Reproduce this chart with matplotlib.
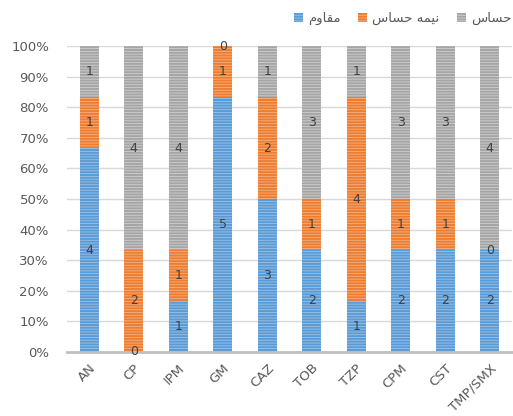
import numpy as np
import matplotlib
matplotlib.use("Agg")
import matplotlib.pyplot as plt
from matplotlib.patches import Patch

categories = ["AN", "CP", "IPM", "GM", "CAZ", "TOB", "TZP", "CPM", "CST", "TMP/SMX"]
resistant = [4, 0, 1, 5, 3, 2, 1, 2, 2, 2]      # مقاوم
intermediate = [1, 2, 1, 1, 2, 1, 4, 1, 1, 0]   # نیمه حساس
sensitive = [1, 4, 4, 0, 1, 3, 1, 3, 3, 4]      # حساس

# pre-shaped persian labels (visual order) since matplotlib has no bidi
lbl_res = "\ufee1\ufeed\ufe8e\ufed8\ufee3"
lbl_int = "\ufeb1\ufe8e\ufeb4\ufea3 \ufeea\ufee4\ufbff\ufee7"
lbl_sen = "\ufeb1\ufe8e\ufeb4\ufea3"

plt.rcParams["font.family"] = ["DejaVu Sans"]
plt.rcParams["hatch.linewidth"] = 0.6

colors = ["#5B9BD5", "#ED7D31", "#A5A5A5"]
stripes = ["#9DC3E6", "#F4B183", "#D0D0D0"]

data = np.array([resistant, intermediate, sensitive], dtype=float)
pct = data / data.sum(axis=0) * 100

fig = plt.figure(figsize=(5.13, 4.16), dpi=100)
ax = fig.add_axes([0.1306, 0.154, 0.8674, 0.735])

x = np.arange(len(categories))
bottom = np.zeros(len(categories))
for i in range(3):
    ax.bar(x, pct[i], 0.42, bottom=bottom, color=colors[i], edgecolor=stripes[i],
           linewidth=0, hatch="------", zorder=2)
    for j in range(len(categories)):
        ax.text(x[j], bottom[j] + pct[i][j] / 2, str(int(data[i][j])), ha="center", va="center",
                fontsize=9, color="#404040", zorder=3)
    bottom += pct[i]

ax.set_xlim(-0.5, len(categories) - 0.5)
ax.set_ylim(0, 100)
ax.set_yticks(np.arange(0, 101, 10))
ax.set_yticklabels([f"{v}%" for v in range(0, 101, 10)])
ax.set_xticks(x)
ax.set_xticklabels(categories, rotation=45, ha="right", rotation_mode="anchor")
ax.tick_params(axis="both", length=0, labelsize=9.5, colors="#595959")
ax.tick_params(axis="y", pad=13)
ax.tick_params(axis="x", pad=7)
ax.yaxis.grid(True, color="#D9D9D9", linewidth=1, zorder=0)
for s in ["top", "right", "left"]:
    ax.spines[s].set_visible(False)
ax.spines["bottom"].set_color("#BFBFBF")
ax.spines["bottom"].set_linewidth(2)

handles = [Patch(facecolor=colors[i], edgecolor=stripes[i], hatch="------", linewidth=0) for i in range(3)]
fig.legend(handles, [lbl_res, lbl_int, lbl_sen], loc="upper center", bbox_to_anchor=(0.785, 1.0),
           ncol=3, frameon=False, fontsize=9.5, handlelength=0.7, handleheight=0.7,
           handletextpad=0.4, columnspacing=1.3, labelcolor="#595959")

fig.savefig("out.png", dpi=100)
